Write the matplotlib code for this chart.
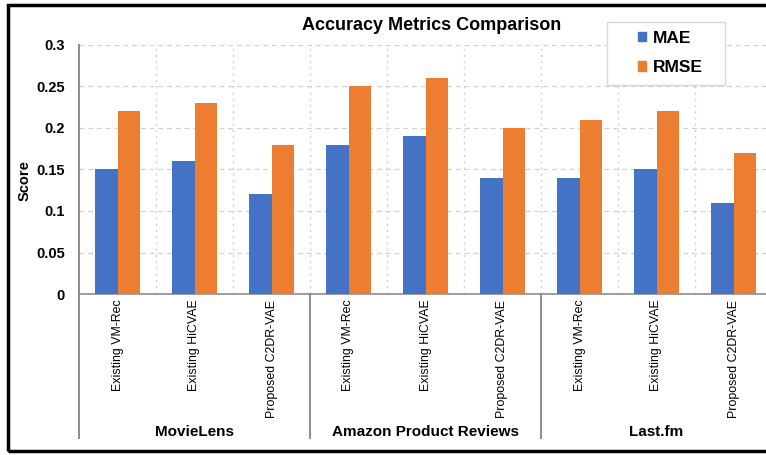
import matplotlib.pyplot as plt
import numpy as np
from matplotlib.patches import Rectangle, Patch
from matplotlib.transforms import blended_transform_factory

plt.rcParams.update({
    'font.family': ['Liberation Sans', 'DejaVu Sans'],
    'font.size': 9,
})

BLUE = '#4472C4'
ORANGE = '#ED7D31'
GRID = '#D0D0D0'
AXIS = '#8C8C8C'

datasets = ['MovieLens', 'Amazon Product Reviews', 'Last.fm']
models = ['Existing VM-Rec', 'Existing HiCVAE', 'Proposed C2DR-VAE']
mae = [0.15, 0.16, 0.12, 0.18, 0.19, 0.14, 0.14, 0.15, 0.11]
rmse = [0.22, 0.23, 0.18, 0.25, 0.26, 0.20, 0.21, 0.22, 0.17]
yticks = [0, 0.05, 0.1, 0.15, 0.2, 0.25, 0.3]
ytick_labels = ['0', '0.05', '0.1', '0.15', '0.2', '0.25', '0.3']

W, H = 766, 455
fig = plt.figure(figsize=(W / 100, H / 100), dpi=100)
ax = fig.add_axes([79 / W, 161 / H, 693 / W, 249 / H])

x = np.arange(len(mae))
width = 0.286
ax.bar(x - width / 2, mae, width, color=BLUE, label='MAE', zorder=3)
ax.bar(x + width / 2, rmse, width, color=ORANGE, label='RMSE', zorder=3)

ax.set_xlim(-0.5, len(mae) - 0.5)
ax.set_ylim(0, 0.3)
ax.set_yticks(yticks)
ax.set_yticklabels(ytick_labels, fontweight='bold', fontsize=10.5)
ax.tick_params(axis='y', length=0, pad=10)

# dashed horizontal grid, dotted vertical lines between categories
for y in yticks[1:]:
    ax.axhline(y, color=GRID, linestyle=(0, (4, 3)), linewidth=0.9, zorder=0)
for b in np.arange(0.5, len(mae) - 0.5, 1):
    ax.axvline(b, color=GRID, linestyle=(0, (1.5, 3)), linewidth=1.0, zorder=0)

for s in ['top', 'right', 'left']:
    ax.spines[s].set_visible(False)
ax.spines['bottom'].set_color(AXIS)
ax.spines['bottom'].set_linewidth(1.2)

ax.set_xticks(x)
ax.set_xticklabels(models * len(datasets), rotation=90, fontsize=8.9,
                   va='top', ha='center')
ax.tick_params(axis='x', length=0, pad=4)

# group separators and dataset labels under the axis
trans = blended_transform_factory(ax.transData, ax.transAxes)
for b in [-0.5, 2.5, 5.5]:
    ax.plot([b, b], [1.0 if b == -0.5 else 0, -0.58], color=AXIS,
            linewidth=1.4, transform=trans, clip_on=False, zorder=4)
for i, name in enumerate(datasets):
    ax.text(3 * i + 1, -0.555, name, transform=trans, ha='center',
            va='center', fontweight='bold', fontsize=11)

ax.set_ylabel('Score', fontweight='bold', fontsize=10.5)
ax.yaxis.set_label_coords(-0.069, 0.454)

fig.text(432 / W, 1 - 26 / H, 'Accuracy Metrics Comparison',
         ha='center', va='center', fontweight='bold', fontsize=13)

# legend box drawn separately so the padding can be uneven
fig.patches.append(Rectangle((607 / W, 1 - 85 / H), 118 / W, 63 / H,
                             transform=fig.transFigure, facecolor='white',
                             edgecolor='#D9D9D9', linewidth=1.0, zorder=5))
handles = [Patch(color=BLUE), Patch(color=ORANGE)]
leg = fig.legend(handles, ['MAE', 'RMSE'], loc='center',
                 bbox_to_anchor=(670 / W, 1 - 53 / H),
                 prop={'weight': 'bold', 'size': 12.5},
                 handlelength=0.5, handleheight=0.5, handletextpad=0.35,
                 labelspacing=0.85, borderpad=0, frameon=False)
leg.set_zorder(6)

# outer frame
fig.patches.append(Rectangle((8 / W, 4 / H), 1.0, 1 - 9 / H,
                             transform=fig.transFigure, fill=False,
                             edgecolor='black', linewidth=2.5))

fig.savefig('out.png', dpi=100, facecolor='white')
